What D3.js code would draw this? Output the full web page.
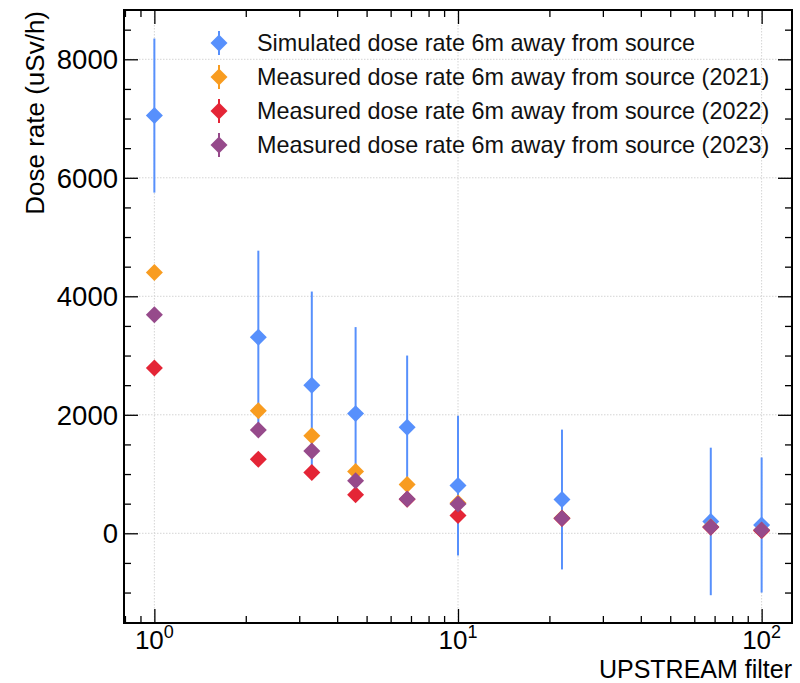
<!DOCTYPE html>
<html>
<head>
<meta charset="utf-8">
<script src="https://cdn.jsdelivr.net/npm/d3@7"></script>
<style>
  html, body { margin: 0; padding: 0; background: #fff; }
  svg { display: block; font-family: "Liberation Sans", Arial, Helvetica, sans-serif; }
</style>
</head>
<body>
<svg id="chart" width="800" height="683"></svg>
<script>
// ---- data ----
const filters = [1, 2.2, 3.3, 4.6, 6.8, 10, 22, 68, 100];
const simulated = [7050, 3310, 2500, 2020, 1790, 805, 570, 200, 140];
const simulatedErr = [1300, 1460, 1580, 1460, 1210, 1180, 1180, 1245, 1140];
const measured2021 = [4400, 2070, 1645, 1045, 825, 510, 260, 110, 50];
const measured2022 = [2790, 1250, 1025, 650, 575, 300, 250, 100, 45];
const measured2023 = [3690, 1745, 1390, 885, 580, 495, 255, 105, 55];
const seriesLabels = [
  "Simulated dose rate 6m away from source",
  "Measured dose rate 6m away from source (2021)",
  "Measured dose rate 6m away from source (2022)",
  "Measured dose rate 6m away from source (2023)"
];
const seriesColors = ["#5790fc", "#f89c20", "#e42536", "#964a8b"];
const yTicks = [0, 2000, 4000, 6000, 8000];
const xTickExps = [0, 1, 2];

const series = [
  { values: simulated, errors: simulatedErr },
  { values: measured2021, errors: null },
  { values: measured2022, errors: null },
  { values: measured2023, errors: null }
];

// ---- layout ----
const svg = d3.select("#chart");
const L = 124, R = 792, T = 10, B = 623;

const x = d3.scaleLog().domain([Math.pow(10, -0.1), Math.pow(10, 2.1)]).range([L, R]);
const y = d3.scaleLinear().domain([-1514, 8832]).range([B, T]);

// grid
const grid = svg.append("g");
xTickExps.forEach(e => {
  grid.append("line").attr("x1", x(Math.pow(10, e))).attr("x2", x(Math.pow(10, e)))
    .attr("y1", T).attr("y2", B).attr("stroke", "#d4d4d4").attr("stroke-width", 1)
    .attr("stroke-dasharray", "1.5,1.5");
});
yTicks.forEach(v => {
  grid.append("line").attr("x1", L).attr("x2", R).attr("y1", y(v)).attr("y2", y(v))
    .attr("stroke", "#d4d4d4").attr("stroke-width", 1).attr("stroke-dasharray", "1.5,1.5");
});

// minor/major ticks via d3 axes (inward)
const yMinor = d3.range(-1500, 8832, 500).filter(v => v % 2000 !== 0);
const xMinor = [];
for (let e = -1; e <= 2; e++) for (let m = 2; m <= 9; m++) {
  const v = m * Math.pow(10, e);
  if (v >= x.domain()[0] && v <= x.domain()[1]) xMinor.push(v);
}
const xMajor = xTickExps.map(e => Math.pow(10, e));

function tickGroup(axisFn, scale, vals, size, transform) {
  const g = svg.append("g").attr("transform", transform)
    .call(axisFn(scale).tickValues(vals).tickSize(size).tickFormat(""));
  g.select(".domain").remove();
  g.selectAll(".tick line").attr("stroke", "#000").attr("stroke-width", 1.3);
  return g;
}
tickGroup(d3.axisBottom, x, xMajor, -14, `translate(0,${B})`);
tickGroup(d3.axisBottom, x, xMinor, -7, `translate(0,${B})`);
tickGroup(d3.axisTop, x, xMajor, -14, `translate(0,${T})`);
tickGroup(d3.axisTop, x, xMinor, -7, `translate(0,${T})`);
tickGroup(d3.axisLeft, y, yTicks, -14, `translate(${L},0)`);
tickGroup(d3.axisLeft, y, yMinor, -7, `translate(${L},0)`);
tickGroup(d3.axisRight, y, yTicks, -14, `translate(${R},0)`);
tickGroup(d3.axisRight, y, yMinor, -7, `translate(${R},0)`);

// tick labels
svg.append("g").selectAll("text").data(yTicks).join("text")
  .attr("x", L - 6).attr("y", d => y(d)).attr("dy", "0.36em")
  .attr("text-anchor", "end").attr("font-size", 27.5).attr("fill", "#000")
  .text(d => d);

const xl = svg.append("g").selectAll("text").data(xTickExps).join("text")
  .attr("x", e => x(Math.pow(10, e))).attr("y", 649)
  .attr("text-anchor", "middle").attr("font-size", 26).attr("fill", "#000");
xl.append("tspan").text("10");
xl.append("tspan").attr("font-size", 18).attr("dy", -11).text(e => e);

// axis labels
svg.append("text").attr("transform", `translate(44,${T + 1}) rotate(-90)`)
  .attr("text-anchor", "end").attr("font-size", 26).attr("fill", "#000")
  .text("Dose rate (uSv/h)");
svg.append("text").attr("x", R).attr("y", 677.5)
  .attr("text-anchor", "end").attr("font-size", 25).attr("fill", "#000")
  .text("UPSTREAM filter");

// clip
svg.append("clipPath").attr("id", "clip").append("rect")
  .attr("x", L).attr("y", T).attr("width", R - L).attr("height", B - T);
const plot = svg.append("g").attr("clip-path", "url(#clip)");

const diamond = d3.symbol().type(d3.symbolSquare).size(144);

series.forEach((s, i) => {
  const g = plot.append("g");
  if (s.errors) {
    g.selectAll("line").data(filters).join("line")
      .attr("x1", (d) => x(d)).attr("x2", (d) => x(d))
      .attr("y1", (d, j) => y(s.values[j] + s.errors[j]))
      .attr("y2", (d, j) => y(s.values[j] - s.errors[j]))
      .attr("stroke", seriesColors[i]).attr("stroke-width", 2);
  }
  g.selectAll("path").data(filters).join("path")
    .attr("d", diamond)
    .attr("transform", (d, j) => `translate(${x(d)},${y(s.values[j])}) rotate(45)`)
    .attr("fill", seriesColors[i]);
});

// frame
svg.append("rect").attr("x", L).attr("y", T).attr("width", R - L).attr("height", B - T)
  .attr("fill", "none").attr("stroke", "#000").attr("stroke-width", 2);

// legend
const legRows = [43, 77, 111, 145];
const leg = svg.append("g");
seriesLabels.forEach((lab, i) => {
  const cy = legRows[i];
  leg.append("line").attr("x1", 219).attr("x2", 219).attr("y1", cy - 12).attr("y2", cy + 12)
    .attr("stroke", seriesColors[i]).attr("stroke-width", 2);
  leg.append("path").attr("d", diamond)
    .attr("transform", `translate(219,${cy}) rotate(45)`).attr("fill", seriesColors[i]);
  leg.append("text").attr("x", 257).attr("y", cy + 8).attr("font-size", 23.4).attr("fill", "#111")
    .text(lab);
});
</script>
</body>
</html>
